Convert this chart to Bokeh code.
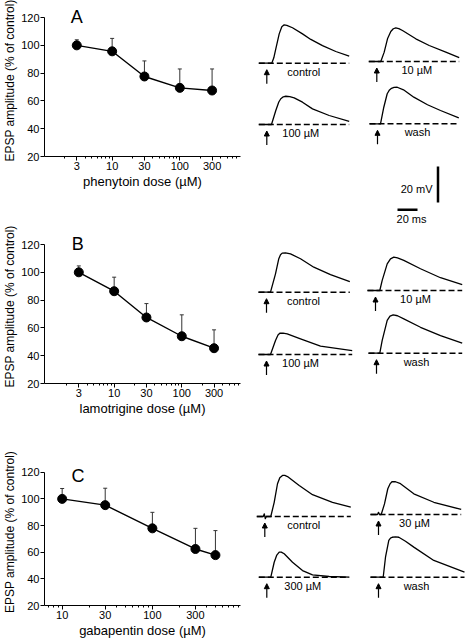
from bokeh.plotting import figure
from bokeh.layouts import row, column
from bokeh.models import Range1d, FixedTicker, Arrow, NormalHead, ColumnDataSource, NumeralTickFormatter
from bokeh.core.properties import value
from bokeh.embed import file_html
from bokeh.resources import INLINE

# ---------------- dose-response data (% of control) ----------------
dose_a = [3, 10, 30, 100, 300]
epsp_a = [100, 95.7, 77.6, 69.4, 67.5]
err_a = [4.0, 9.3, 11.2, 13.6, 15.5]

dose_b = [3, 10, 30, 100, 300]
epsp_b = [100, 86.4, 67.5, 54.0, 45.4]
err_b = [4.6, 10.1, 10.0, 15.4, 13.2]

dose_c = [10, 30, 100, 300, 500]
epsp_c = [100, 95.3, 77.9, 62.4, 57.8]
err_c = [7.8, 12.7, 12.0, 15.5, 18.4]

ticks_ab = [3, 10, 30, 100, 300]
ticks_c = [10, 30, 100, 300]
minor_log = [2, 4, 5, 6, 7, 8, 9, 20, 40, 50, 60, 70, 80, 90, 200, 400, 500, 600, 700, 800, 900]
y_ticks = [20, 40, 60, 80, 100, 120]

# ---------------- EPSP traces: time (ms) after stimulus, depolarisation (mV) ----------------
a_ctrl_t = [-8, 5, 7, 9, 12.4, 15, 17.4, 20, 25.7, 35.7, 44, 55.7, 69, 82.4]
a_ctrl_v = [0, 0, 3, 8, 16.3, 20.2, 21.3, 21.0, 19.7, 16.3, 13.2, 9.8, 6.5, 3.9]
a_10_t = [-8, 4, 7.4, 10.7, 14, 16.5, 19, 22, 25.7, 39, 52.4, 69, 82.4]
a_10_v = [0, 0, 5.2, 12.6, 16.7, 18.2, 18.7, 18.3, 17.2, 12.6, 8.9, 5.2, 2.1]
a_100_t = [-8, 4.7, 9, 12, 14, 16.5, 19, 23, 27.4, 35.7, 45.7, 62.4, 82.4]
a_100_v = [0, 0, 7.8, 12.5, 14.3, 15.4, 15.7, 15.5, 14.8, 12.4, 8.7, 5.0, 1.8]
a_wash_t = [-8, 3, 6.3, 9.7, 12, 14, 16.5, 19.7, 26, 36.3, 50, 63, 81.3]
a_wash_v = [0, 0, 9.2, 16.7, 18.8, 19.7, 20.2, 20.3, 18.9, 14.8, 10.6, 7.4, 3.3]

b_ctrl_t = [-8, 4, 9, 12.3, 14, 15.7, 19, 24, 34, 47.3, 64, 83.3]
b_ctrl_v = [0, 0, 10.2, 18.6, 20.8, 21.7, 21.8, 21.3, 18.6, 13.9, 9.8, 5.9]
b_10_t = [-8, 4.3, 6.7, 11.7, 15, 18.3, 22, 28.3, 45, 65, 86.7]
b_10_v = [0, 0, 5.6, 14.8, 17.6, 18.5, 18.1, 16.7, 12.1, 7.1, 3.3]
b_100_t = [-8, 4, 9, 11.5, 13.3, 16.5, 20.7, 34, 54, 85.7]
b_100_v = [0, 0, 7.8, 10.8, 11.8, 11.9, 11.5, 8.7, 4.6, 2.2]
b_wash_t = [-8, 3.3, 5.7, 10.7, 13.5, 16.7, 21, 27.3, 44, 64, 85.7]
b_wash_v = [0, 0, 7.1, 18.2, 20.6, 21.3, 20.8, 19.1, 14.4, 9.8, 5.6]

c_ctrl_t = [-8, -1.5, -0.5, 0.5, 1.5, 6, 9.4, 12.7, 15, 17.7, 20, 22.7, 34.4, 47.7, 67.7, 86]
c_ctrl_v = [0, 0, 1.5, -1.2, 0, 0, 7.9, 18.2, 21.5, 22.8, 22.8, 22.2, 17.2, 12.1, 7.9, 5.2]
c_30_t = [-8, -1, 0, 1, 2.7, 6, 9.3, 11.5, 13.7, 17, 22, 35.3, 55.3, 82.7]
c_30_v = [0, 0, 1.2, 0, 0, 5.9, 14.3, 17.0, 18.3, 18.2, 17.1, 11.5, 6.8, 2.8]
c_300_t = [-8, 4, 7.4, 10, 12.4, 14.5, 17.4, 25.7, 35.7, 45.7, 62.4, 82.4]
c_300_v = [0, 0, 8.3, 12.3, 13.9, 13.9, 13.0, 8.3, 3.7, 1.3, 0.4, 0]
c_wash_t = [-8, 4.7, 7, 10.3, 12, 13.7, 17, 20.3, 27, 35.3, 55.3, 86]
c_wash_v = [0, 0, 11.1, 20.4, 21.7, 22.2, 22.4, 22.2, 20.0, 16.7, 9.3, 2.8]

trace_labels_a = ["control", "10 \u00b5M", "100 \u00b5M", "wash"]
trace_labels_b = ["control", "10 \u00b5M", "100 \u00b5M", "wash"]
trace_labels_c = ["control", "30 \u00b5M", "300 \u00b5M", "wash"]

SCALE_MV = 20
SCALE_MS = 20

# ---------------- layout constants ----------------
FONT = "Liberation Sans"
LEFT_W = 245
RIGHT_W = 220
TOTAL_H = 640
PX_PER_MS = 1.0
PX_PER_MV = 1.8


def dose_plot(x, y, err, ticks, x_rng, y_top, letter, letter_xy, xlabel, height, top, bottom):
    p = figure(width=LEFT_W, height=height, x_axis_type="log",
               x_range=Range1d(*x_rng), y_range=Range1d(20, y_top),
               output_backend="svg", toolbar_location=None,
               min_border_left=40, min_border_right=5,
               min_border_top=top, min_border_bottom=bottom)
    p.outline_line_color = None
    p.grid.visible = False
    p.background_fill_color = "white"
    p.border_fill_color = "white"

    p.xaxis.ticker = FixedTicker(ticks=ticks, minor_ticks=minor_log)
    p.xaxis.formatter = NumeralTickFormatter(format="0")
    p.yaxis.ticker = FixedTicker(ticks=y_ticks, minor_ticks=[])
    p.yaxis.bounds = (20, 120)
    for ax in (p.xaxis, p.yaxis):
        ax.axis_line_color = "black"
        ax.axis_line_width = 1
        ax.major_tick_line_color = "black"
        ax.minor_tick_line_color = "black"
        ax.major_tick_out = 4
        ax.major_tick_in = 0
        ax.minor_tick_in = 0
        ax.major_label_standoff = 1
        ax.axis_label_standoff = 1
        ax.major_label_text_font = FONT
        ax.major_label_text_font_size = "11px"
        ax.major_label_text_color = "black"
        ax.axis_label_text_font = FONT
        ax.axis_label_text_font_style = "normal"
        ax.axis_label_text_color = "black"
    p.xaxis.axis_label_text_font_size = "13px"
    p.yaxis.axis_label_text_font_size = "12px"
    p.xaxis.minor_tick_out = 2
    p.yaxis.minor_tick_out = 0
    p.xaxis.axis_label = xlabel
    p.yaxis.axis_label = "EPSP amplitude (% of control)"

    upper = [m + e for m, e in zip(y, err)]
    p.segment(x0=x, y0=y, x1=x, y1=upper, line_color="#333333", line_width=1)
    p.scatter(x, upper, marker="dash", size=4, line_color="#333333", line_width=1)
    p.line(x, y, line_color="black", line_width=1.4)
    p.scatter(x, y, size=9, fill_color="black", line_color="black")

    p.text(x=[letter_xy[0]], y=[letter_xy[1]], text=[letter], text_align="center",
           text_baseline="alphabetic", text_font=value(FONT), text_font_size="18px",
           text_color="black")
    return p


fa = dose_plot(dose_a, epsp_a, err_a, ticks_ab, (1.0, 789), 129.4, "A", (3, 120.5),
               "phenytoin dose (\u00b5M)", 200, 4, 44)
fb = dose_plot(dose_b, epsp_b, err_b, ticks_ab, (0.933, 738), 130.8, "B", (2.9, 120.5),
               "lamotrigine dose (\u00b5M)", 220, 29, 37)
fc = dose_plot(dose_c, epsp_c, err_c, ticks_c, (6.37, 948), 130.3, "C", (15, 117.5),
               "gabapentin dose (\u00b5M)", 220, 38, 32)

# ---------------- traces panel ----------------
pr = figure(width=RIGHT_W, height=TOTAL_H,
            x_range=Range1d(0, RIGHT_W / PX_PER_MS), y_range=Range1d(0, TOTAL_H / PX_PER_MV),
            x_axis_location=None, y_axis_location=None,
            output_backend="svg", toolbar_location=None, min_border=0)
pr.grid.visible = False
pr.outline_line_color = None


def at(ix, iy):
    """position of a trace origin in picture pixels -> panel units (ms, mV)"""
    return (ix - LEFT_W) / PX_PER_MS, (TOTAL_H - iy) / PX_PER_MV


traces = [
    (a_ctrl_t, a_ctrl_v, at(266.3, 62.7), trace_labels_a[0], 37),
    (a_10_t, a_10_v, at(376.3, 61.0), trace_labels_a[1], 40),
    (a_100_t, a_100_v, at(266.3, 124.0), trace_labels_a[2], 34),
    (a_wash_t, a_wash_v, at(377.0, 123.3), trace_labels_a[3], 40),
    (b_ctrl_t, b_ctrl_v, at(266.0, 291.7), trace_labels_b[0], 37),
    (b_10_t, b_10_v, at(375.0, 290.0), trace_labels_b[1], 40),
    (b_100_t, b_100_v, at(266.0, 354.0), trace_labels_b[2], 34),
    (b_wash_t, b_wash_v, at(376.0, 352.7), trace_labels_b[3], 40),
    (c_ctrl_t, c_ctrl_v, at(264.3, 516.0), trace_labels_c[0], 39),
    (c_30_t, c_30_v, at(378.0, 514.0), trace_labels_c[1], 36),
    (c_300_t, c_300_v, at(266.3, 576.7), trace_labels_c[2], 36),
    (c_wash_t, c_wash_v, at(378.0, 576.7), trace_labels_c[3], 38),
]

arr = dict(x0=[], y0=[], x1=[], y1=[])
lab = dict(x=[], y=[], text=[])
for t, v, (ox, oy), name, loff in traces:
    pr.line([ox + ti for ti in t], [oy + vi for vi in v], line_color="black", line_width=1.3,
            line_join="round")
    pr.line([ox + t[0], ox + t[-1]], [oy, oy], line_color="black", line_width=1.4,
            line_dash="6 3")
    arr["x0"].append(ox); arr["x1"].append(ox)
    arr["y0"].append(oy - 20.5 / PX_PER_MV); arr["y1"].append(oy - 6.5 / PX_PER_MV)
    lab["x"].append(ox + loff); lab["y"].append(oy - 8.5 / PX_PER_MV); lab["text"].append(name)

pr.add_layout(Arrow(end=NormalHead(size=5, line_color="black", fill_color="black", line_width=1),
                    x_start="x0", y_start="y0", x_end="x1", y_end="y1",
                    line_color="black", line_width=1.2, source=ColumnDataSource(arr)))
pr.text(x="x", y="y", text="text", source=ColumnDataSource(lab), text_align="center",
        text_baseline="middle", text_font=value(FONT), text_font_size="11px", text_color="black")

# scale bars
vx, vy = at(437.5, 202.0)
pr.line([vx, vx], [vy, vy + SCALE_MV], line_color="black", line_width=2.5)
hx, hy = at(397.0, 209.3)
pr.line([hx, hx + SCALE_MS], [hy, hy], line_color="black", line_width=2.5)
tx, ty = at(432.0, 188.5)
pr.text(x=[tx], y=[ty], text=["%d mV" % SCALE_MV], text_align="right", text_baseline="middle",
        text_font=value(FONT), text_font_size="11px", text_color="black")
sx, sy = at(411.0, 218.0)
pr.text(x=[sx], y=[sy], text=["%d ms" % SCALE_MS], text_align="center", text_baseline="middle",
        text_font=value(FONT), text_font_size="11px", text_color="black")

layout = row(column(fa, fb, fc), pr)
open("out.html", "w").write(file_html(layout, INLINE))
